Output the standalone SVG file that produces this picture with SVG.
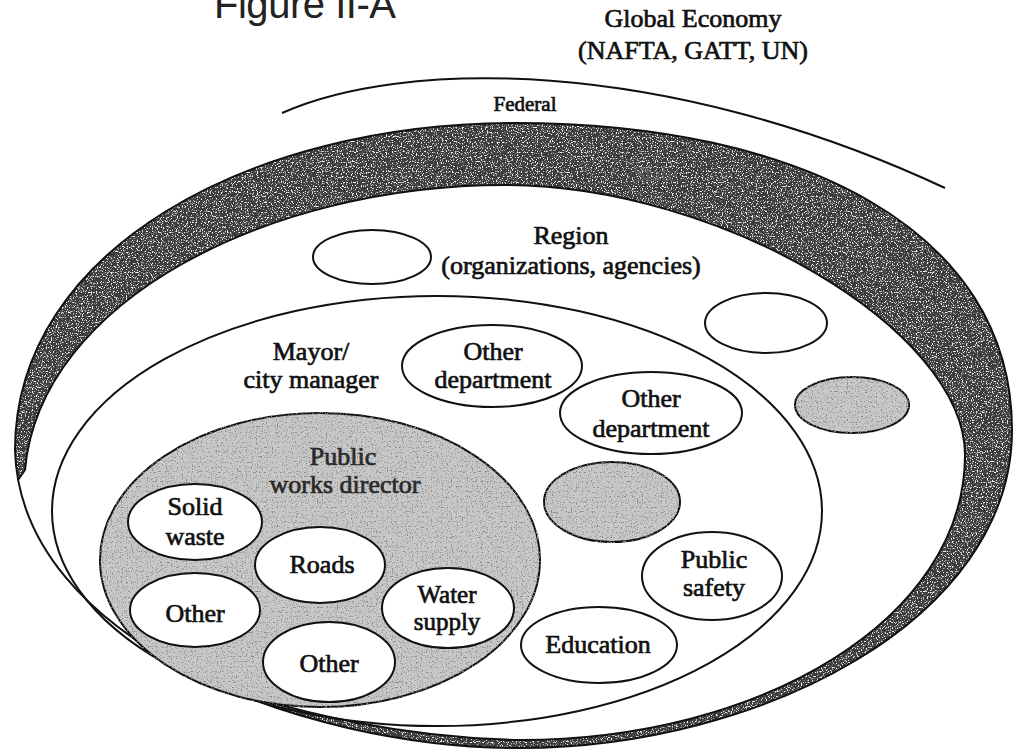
<svg xmlns="http://www.w3.org/2000/svg" width="1013" height="751" viewBox="0 0 1013 751">
<style>
 .t{font-family:"Liberation Serif","Times New Roman",serif;font-size:26px;fill:#111;stroke:#111;stroke-width:0.7;text-anchor:middle}
 .e{fill:#fff;stroke:#111;stroke-width:2}
 .g{fill:#c8c8c8;stroke:#111;stroke-width:2}
 .ln{fill:none;stroke:#111;stroke-width:2}
</style>
<defs>
 <filter id="grainDark" x="0" y="0" width="1013" height="751" filterUnits="userSpaceOnUse">
  <feTurbulence type="fractalNoise" baseFrequency="0.8" numOctaves="1" seed="7" result="n"/>
  <feColorMatrix in="n" type="matrix" values="0 0 0 0 1  0 0 0 0 1  0 0 0 0 1  7 0 0 0 -3.9" result="spots"/>
  <feComposite in="spots" in2="SourceGraphic" operator="in" result="s2"/>
  <feMerge><feMergeNode in="SourceGraphic"/><feMergeNode in="s2"/></feMerge>
 </filter>
 <filter id="grainLight" x="0" y="0" width="1013" height="751" filterUnits="userSpaceOnUse">
  <feTurbulence type="fractalNoise" baseFrequency="0.8" numOctaves="1" seed="11" result="n"/>
  <feColorMatrix in="n" type="matrix" values="0 0 0 0 0.25  0 0 0 0 0.25  0 0 0 0 0.25  7 0 0 0 -3.9" result="spots"/>
  <feComposite in="spots" in2="SourceGraphic" operator="in" result="s2"/>
  <feMerge><feMergeNode in="SourceGraphic"/><feMergeNode in="s2"/></feMerge>
 </filter>
</defs>
<rect width="1013" height="751" fill="#fff"/>
<text x="214" y="18" font-family="Liberation Sans, Arial, sans-serif" font-size="40" fill="#222" textLength="182">Figure II-A</text>

<g id="global">
 <text class="t" x="693" y="27">Global Economy</text>
 <text class="t" x="693" y="59">(NAFTA, GATT, UN)</text>
</g>

<g id="federal">
 <path class="ln" d="M282,113 C400,60 660,55 945,188"/>
 <text class="t" x="525" y="111" style="font-size:21px">Federal</text>
</g>

<g id="state">
 <path d="M18,480 L15,450 C15,250 250,123 515,123 C800,123 1012,230 1012,430 C1012,620 760,748 520,748 C425.4,748 319.7,728 229.6,690.2 C300,712 400,738 520,740 C760,740 965,620 965,455 C965,330 720,185 505,185 C270,185 40,300 25,470 Z" fill="#3c3c3c" filter="url(#grainDark)"/>
 <path class="ln" d="M15,450 C15,250 250,123 515,123 C800,123 1012,230 1012,430 C1012,620 760,748 520,748 C300,748 20,640 15,450 Z"/>
 <path class="ln" stroke-width="1.5" d="M229.6,690.2 C300,712 400,738 520,740 C760,740 965,620 965,455 C965,330 720,185 505,185 C270,185 40,300 25,470 L18,480"/>
 <text x="655" y="181" font-family="Liberation Serif, serif" font-size="22" fill="#5e5e5e" text-anchor="middle">State</text>
</g>

<g id="region">
 <text class="t" x="571" y="244">Region</text>
 <text class="t" x="571" y="274">(organizations, agencies)</text>
</g>
<g id="region-org-1"><ellipse class="e" cx="372" cy="257" rx="59" ry="27"/></g>
<g id="region-org-2"><ellipse class="e" cx="766" cy="323" rx="61" ry="30"/></g>
<g id="region-org-3"><ellipse class="g" cx="852" cy="405" rx="57" ry="28" filter="url(#grainLight)"/></g>

<g id="mayor">
 <ellipse class="ln" cx="437" cy="511" rx="385" ry="215"/>
 <text class="t" x="311" y="360">Mayor/</text>
 <text class="t" x="311" y="388">city manager</text>
</g>

<g id="other-dept-1">
 <ellipse class="e" cx="492" cy="366" rx="90" ry="41"/>
 <text class="t" x="493" y="360">Other</text>
 <text class="t" x="493" y="388">department</text>
</g>
<g id="other-dept-2">
 <ellipse class="e" cx="651" cy="413" rx="91" ry="41"/>
 <text class="t" x="651" y="407">Other</text>
 <text class="t" x="651" y="437">department</text>
</g>
<g id="dept-shaded"><ellipse class="g" cx="612" cy="502" rx="68" ry="40" filter="url(#grainLight)"/></g>
<g id="public-safety">
 <ellipse class="e" cx="712" cy="576" rx="70" ry="44"/>
 <text class="t" x="714" y="568">Public</text>
 <text class="t" x="714" y="596">safety</text>
</g>
<g id="education">
 <ellipse class="e" cx="599" cy="645" rx="78" ry="38"/>
 <text class="t" x="598" y="653">Education</text>
</g>

<g id="public-works">
 <ellipse class="g" cx="320" cy="560" rx="220" ry="147" filter="url(#grainLight)"/>
 <text class="t" x="343" y="465" style="fill:#2a2a2a;stroke:#2a2a2a">Public</text>
 <text class="t" x="345" y="493" style="fill:#2a2a2a;stroke:#2a2a2a">works director</text>
</g>
<g id="solid-waste">
 <ellipse class="e" cx="195" cy="522" rx="67" ry="38"/>
 <text class="t" x="195" y="515">Solid</text>
 <text class="t" x="195" y="545">waste</text>
</g>
<g id="roads">
 <ellipse class="e" cx="320" cy="565" rx="65" ry="38"/>
 <text class="t" x="322" y="573">Roads</text>
</g>
<g id="other-left">
 <ellipse class="e" cx="195" cy="610" rx="65" ry="37"/>
 <text class="t" x="195" y="622">Other</text>
</g>
<g id="water-supply">
 <ellipse class="e" cx="448" cy="608" rx="66" ry="40"/>
 <text class="t" x="447" y="603" style="font-size:25px">Water</text>
 <text class="t" x="447" y="630" style="font-size:25px">supply</text>
</g>
<g id="other-bottom">
 <ellipse class="e" cx="329" cy="662" rx="66" ry="40"/>
 <text class="t" x="329" y="672">Other</text>
</g>

<g id="connectors"></g>
</svg>
